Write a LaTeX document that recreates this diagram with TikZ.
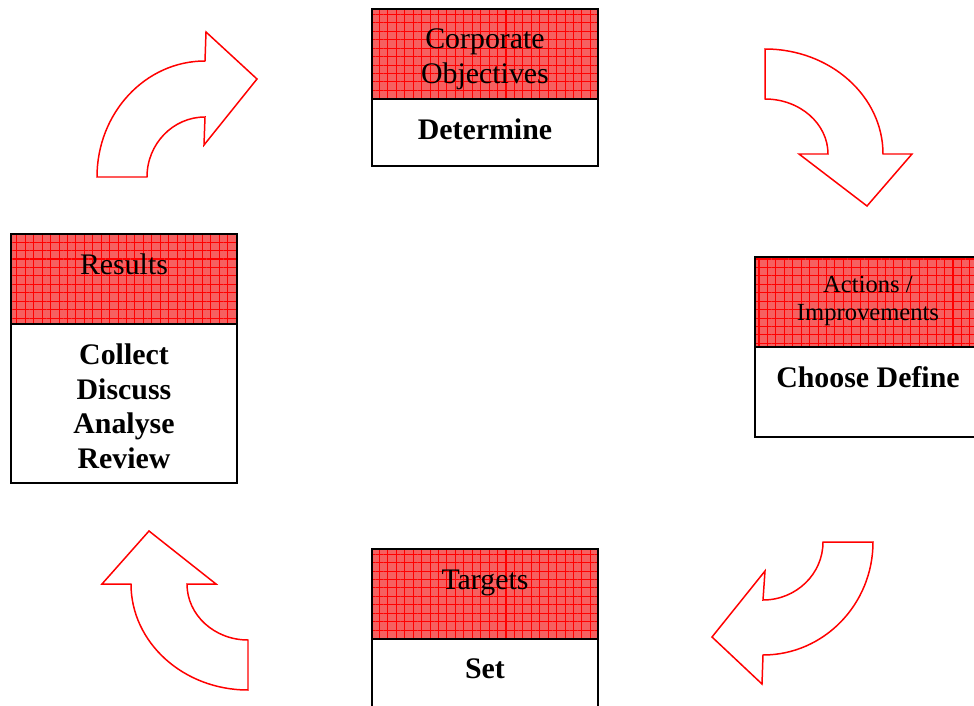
\documentclass[tikz,border=0pt]{standalone}
\usepackage{fontspec}
\setmainfont{Liberation Serif}
\usetikzlibrary{positioning,patterns.meta}
\definecolor{hdpink}{RGB}{246,96,96}
\definecolor{arrred}{RGB}{255,0,0}

\begin{document}
\begin{tikzpicture}[x=0.02cm, y=-0.02cm, line width=1pt,
  head/.style={draw, outer sep=0pt, minimum width=4.52cm, minimum height=1.8cm, anchor=north west,
    preaction={fill=hdpink}, pattern={Hatch[angle=0,distance=4.8pt,line width=0.6pt]}, pattern color=red},
  body/.style={draw, fill=white, outer sep=0pt, minimum width=4.52cm, anchor=north},
  headtext/.style={align=center, inner sep=0pt, font=\fontsize{17}{19.8}\selectfont},
  bodytext/.style={align=center, inner sep=0pt, font=\fontsize{17}{19.8}\selectfont\bfseries},
  bigarrow/.style={draw=arrred, line width=0.85pt, line join=miter}]
\clip (0,0) rectangle (974,706);

% the four boxes, clockwise from the top
\node[head] (objhead) at (372,9) {};
\node[body, minimum height=1.34cm, below=0pt of objhead] (objbody) {};
\node[head] (acthead) at (755,257) {};
\node[body, minimum height=1.8cm, below=0pt of acthead] (actbody) {};
\node[head] (tgthead) at (372,549) {};
\node[body, minimum height=1.4cm, below=0pt of tgthead] (tgtbody) {};
\node[head] (reshead) at (11,234) {};
\node[body, minimum height=3.18cm, below=0pt of reshead] (resbody) {};

\node[headtext, below=10.7pt of objhead.north] (objtitle) {Corporate\\Objectives};
\node[bodytext, below=10.7pt of objbody.north] (objtask) {Determine};
\node[headtext, font=\fontsize{14}{15.9}\selectfont, below=10.4pt of acthead.north] (acttitle) {Actions /\\Improvements};
\node[bodytext, below=10.7pt of actbody.north] (acttask) {Choose Define};
\node[headtext, below=11.5pt of tgthead.north] (tgttitle) {Targets};
\node[bodytext, below=10.7pt of tgtbody.north] (tgttask) {Set};
\node[headtext, below=10.7pt of reshead.north] (restitle) {Results};
\node[bodytext, below=10.7pt of resbody.north] (restask) {Collect\\Discuss\\Analyse\\Review};

% curved block arrows
\draw[bigarrow] (97,177) arc[start angle=180, end angle=270, x radius=108, y radius=116]
  -- (206,32) -- (257,79) -- (204,145) -- (205,117)
  arc[start angle=270, end angle=180, x radius=58, y radius=60] -- cycle;
\draw[bigarrow] (765,49) arc[start angle=270, end angle=360, x radius=118, y radius=105]
  -- (912,154) -- (867,206) -- (799,154) -- (828,154)
  arc[start angle=0, end angle=-90, x radius=63, y radius=55] -- cycle;
\draw[bigarrow] (873,542) arc[start angle=0, end angle=90, x radius=110, y radius=113]
  -- (762,684) -- (712,637) -- (765,571) -- (763,600)
  arc[start angle=90, end angle=0, x radius=60, y radius=58] -- cycle;
\draw[bigarrow] (248,690) arc[start angle=90, end angle=180, x radius=117, y radius=106]
  -- (102,584) -- (149,531) -- (216,584) -- (187,584)
  arc[start angle=180, end angle=90, x radius=61, y radius=56] -- cycle;
\end{tikzpicture}
\end{document}
